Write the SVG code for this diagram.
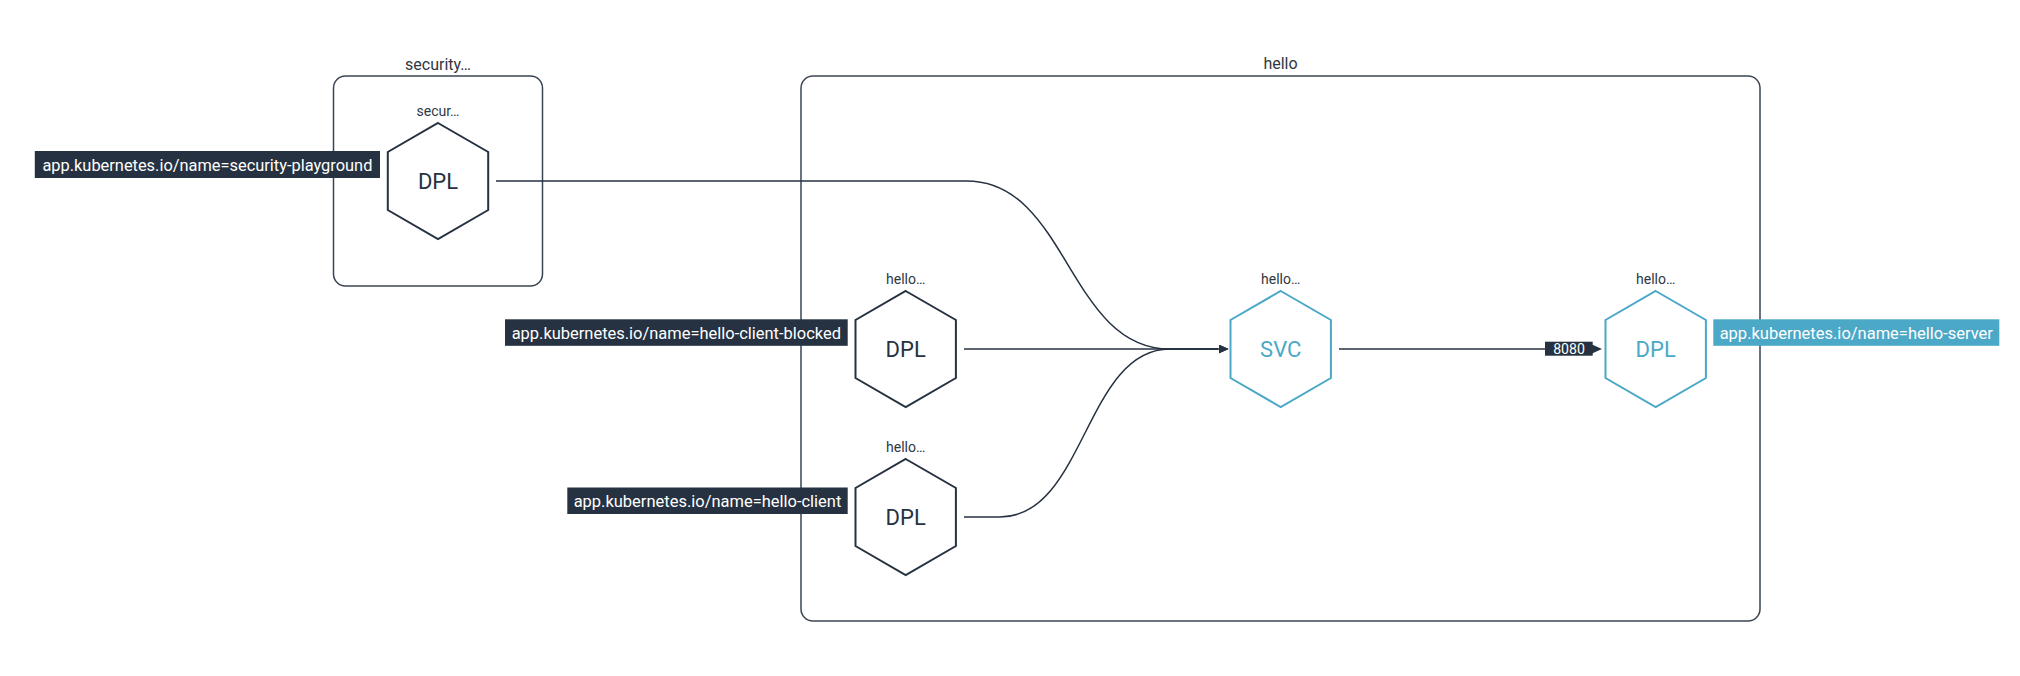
<svg xmlns="http://www.w3.org/2000/svg" width="2020" height="676" viewBox="0 0 2020 676">
<defs>
<style>
.bg{fill:#ffffff}
.group{fill:none;stroke:#3b4552;stroke-width:1.5}
.gtitle{font-family:Roboto,"Liberation Sans",sans-serif;font-size:16px;fill:#2f3742;text-anchor:middle}
.ntitle{font-family:Roboto,"Liberation Sans",sans-serif;font-size:14px;fill:#2f3742;text-anchor:middle}
.hex{fill:#ffffff;stroke:#263241;stroke-width:2}
.hexb{fill:#ffffff;stroke:#4ba8c7;stroke-width:2}
.kind{font-family:Roboto,"Liberation Sans",sans-serif;font-size:22px;fill:#263241;text-anchor:middle}
.kindb{font-family:Roboto,"Liberation Sans",sans-serif;font-size:22px;fill:#4ba8c7;text-anchor:middle}
.lbl{fill:#263241}
.lblb{fill:#4ba8c7}
.lbltext{font-family:Roboto,"Liberation Sans",sans-serif;font-size:17px;fill:#ffffff;text-anchor:middle}
.edge{fill:none;stroke:#263241;stroke-width:1.5}
.elbl{fill:#263241}
.elbltext{font-family:Roboto,"Liberation Sans",sans-serif;font-size:14px;fill:#ffffff;text-anchor:middle}
</style>
<marker id="arrow" markerUnits="userSpaceOnUse" markerWidth="10" markerHeight="10" refX="0" refY="4.5" orient="auto">
<path d="M0,0 L10,4.5 L0,9 Z" fill="#263241"/>
</marker>
</defs>
<rect class="bg" x="0" y="0" width="2020" height="676"/>

<g id="group-security">
<rect class="group" x="333.5" y="76" width="209" height="210" rx="12" ry="12"/>
<text class="gtitle" x="438" y="70">security…</text>
</g>
<g id="group-hello">
<rect class="group" x="801" y="76" width="959" height="545" rx="12" ry="12"/>
<text class="gtitle" x="1280.5" y="69">hello</text>
</g>

<g id="connectors">
<path class="edge" d="M496,181 H966.7 C1068,181 1068,349 1170,349 H1218.5" marker-end="url(#arrow)"/>
<path class="edge" d="M964,349 H1218.5" marker-end="url(#arrow)"/>
<path class="edge" d="M964,517 H1000 C1085,517 1085,349 1170,349 H1218.5" marker-end="url(#arrow)"/>
<path class="edge" d="M1339,349 H1592" marker-end="url(#arrow)"/>
<g id="edge-label-8080">
<rect class="elbl" x="1545" y="341.7" width="47.7" height="14"/>
<text class="elbltext" x="1569" y="354" textLength="31.7" lengthAdjust="spacingAndGlyphs">8080</text>
</g>
</g>

<g id="node-security-playground">
<text class="ntitle" x="438" y="116">secur…</text>
<polygon class="hex" points="438,123 488.2,152 488.2,210 438,239 387.8,210 387.8,152"/>
<text class="kind" x="438" y="189">DPL</text>
<rect class="lbl" x="34.8" y="151" width="345.2" height="27"/>
<text class="lbltext" x="207.4" y="170.5" textLength="330" lengthAdjust="spacingAndGlyphs">app.kubernetes.io/name=security-playground</text>
</g>

<g id="node-hello-client-blocked">
<text class="ntitle" x="905.7" y="284">hello…</text>
<polygon class="hex" points="905.7,291 955.9,320 955.9,378 905.7,407 855.5,378 855.5,320"/>
<text class="kind" x="905.7" y="357">DPL</text>
<rect class="lbl" x="505" y="319.3" width="342.7" height="26.5"/>
<text class="lbltext" x="676.3" y="338.5" textLength="329.3" lengthAdjust="spacingAndGlyphs">app.kubernetes.io/name=hello-client-blocked</text>
</g>

<g id="node-hello-client">
<text class="ntitle" x="905.7" y="452">hello…</text>
<polygon class="hex" points="905.7,459 955.9,488 955.9,546 905.7,575 855.5,546 855.5,488"/>
<text class="kind" x="905.7" y="525">DPL</text>
<rect class="lbl" x="567.3" y="487.5" width="280.4" height="26.5"/>
<text class="lbltext" x="707.5" y="506.5" textLength="267.7" lengthAdjust="spacingAndGlyphs">app.kubernetes.io/name=hello-client</text>
</g>

<g id="node-hello-svc">
<text class="ntitle" x="1280.7" y="284">hello…</text>
<polygon class="hexb" points="1280.7,291 1330.9,320 1330.9,378 1280.7,407 1230.5,378 1230.5,320"/>
<text class="kindb" x="1280.7" y="357">SVC</text>
</g>

<g id="node-hello-server">
<text class="ntitle" x="1655.7" y="284">hello…</text>
<polygon class="hexb" points="1655.7,291 1705.9,320 1705.9,378 1655.7,407 1605.5,378 1605.5,320"/>
<text class="kindb" x="1655.7" y="357">DPL</text>
<rect class="lblb" x="1713.3" y="319.3" width="286" height="26.5"/>
<text class="lbltext" x="1856.3" y="338.5" textLength="273.3" lengthAdjust="spacingAndGlyphs">app.kubernetes.io/name=hello-server</text>
</g>
</svg>
